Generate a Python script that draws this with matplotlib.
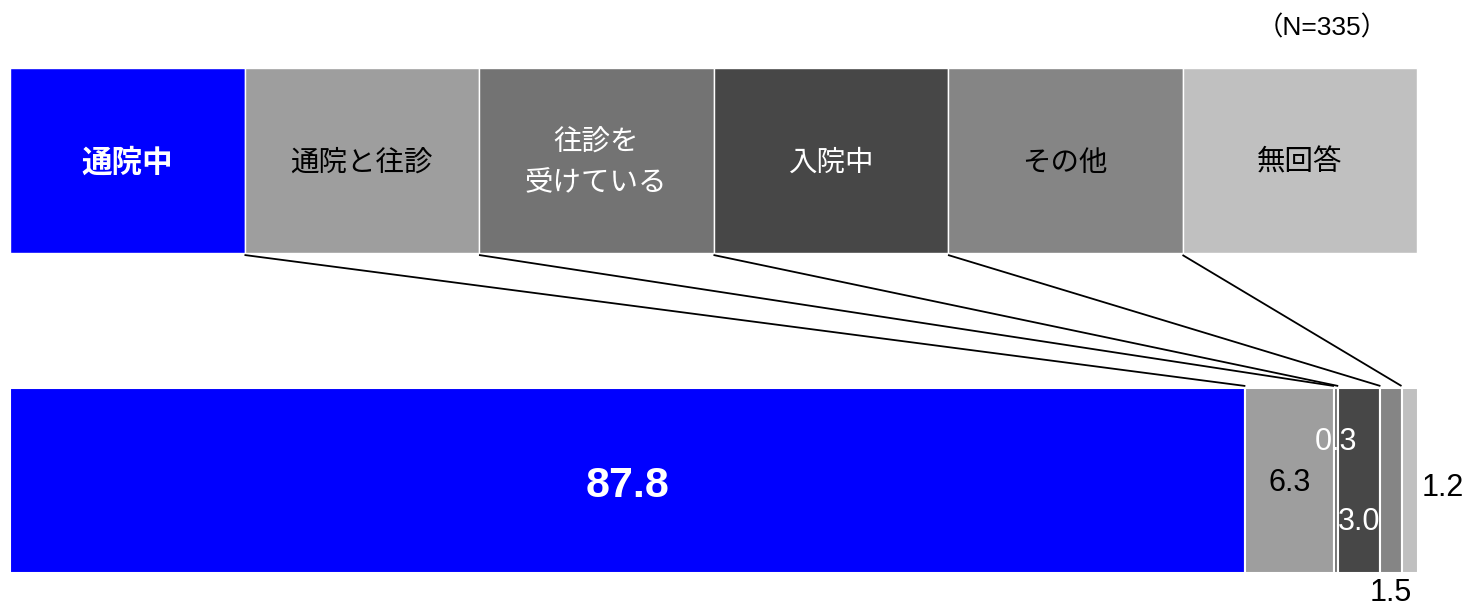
import matplotlib
matplotlib.use('Agg')
import matplotlib.pyplot as plt
import numpy as np

# categories and shares (%)
categories = ['通院中', '通院と往診', '往診を\n受けている', '入院中', 'その他', '無回答']
values = [87.8, 6.3, 0.3, 3.0, 1.5, 1.2]
value_labels = ['87.8', '6.3', '0.3', '3.0', '1.5', '1.2']
colors = ['#0000FF', '#9E9E9E', '#737373', '#474747', '#858585', '#C0C0C0']
sample_note = '（N=335）'

jp_font = ['Noto Sans CJK JP', 'DejaVu Sans']
num_font = ['Liberation Sans', 'Noto Sans CJK JP', 'DejaVu Sans']

W, H = 1466, 609
fig = plt.figure(figsize=(W / 100, H / 100), dpi=100)
ax = fig.add_axes([0, 0, 1, 1])
ax.axis('off')

# x: 0..100 % maps onto pixels 10..1417, y in pixels top-down
scale = (1417 - 10) / 100.0
ax.set_xlim(-10 / scale, (W - 10) / scale)
ax.set_ylim(H, 0)

# top "legend" boxes
box_w = 100.0 / len(categories)
box_left = np.arange(len(categories)) * box_w
ax.barh(160.5, [box_w] * len(categories), left=box_left, height=185,
        color=colors, edgecolor='white', linewidth=1)
for i, cat in enumerate(categories):
    first = i == 0
    ax.text(box_left[i] + box_w / 2, 163, cat, ha='center', va='center',
            fontsize=22 if first else 20.5, fontweight='bold' if first else 'normal',
            color='white' if i in (0, 2, 3) else 'black',
            family=jp_font, linespacing=1.45)

# stacked bar
lefts = np.concatenate([[0], np.cumsum(values)[:-1]])
ax.barh(480.5, values, left=lefts, height=185, color=colors,
        edgecolor='white', linewidth=1.5)

# connector lines from box corners to segment starts
for i in range(1, len(categories)):
    ax.plot([box_left[i], lefts[i]], [255, 386], color='black', lw=1.3,
            solid_capstyle='butt')

# value labels
centers = lefts + np.array(values) / 2
small = 22
ax.text(centers[0], 486, value_labels[0], ha='center', va='center',
        fontsize=31, fontweight='bold', color='white', family=num_font)
ax.text(centers[1], 483, value_labels[1], ha='center', va='center',
        fontsize=small, color='black', family=num_font)
ax.text(centers[2], 442, value_labels[2], ha='center', va='center',
        fontsize=small, color='white', family=num_font)
ax.text(centers[3], 522, value_labels[3], ha='center', va='center',
        fontsize=small, color='white', family=num_font)
ax.text(centers[4], 608, value_labels[4], ha='center', va='bottom',
        fontsize=small, color='black', family=num_font)
ax.text(lefts[5] + values[5] + 3 / scale, 488, value_labels[5], ha='left',
        va='center', fontsize=small, color='black', family=num_font)

ax.text(1322 / scale - 10 / scale, 28, sample_note, ha='center', va='center',
        fontsize=19, color='black', family=num_font)

fig.savefig('out.png', dpi=100)
